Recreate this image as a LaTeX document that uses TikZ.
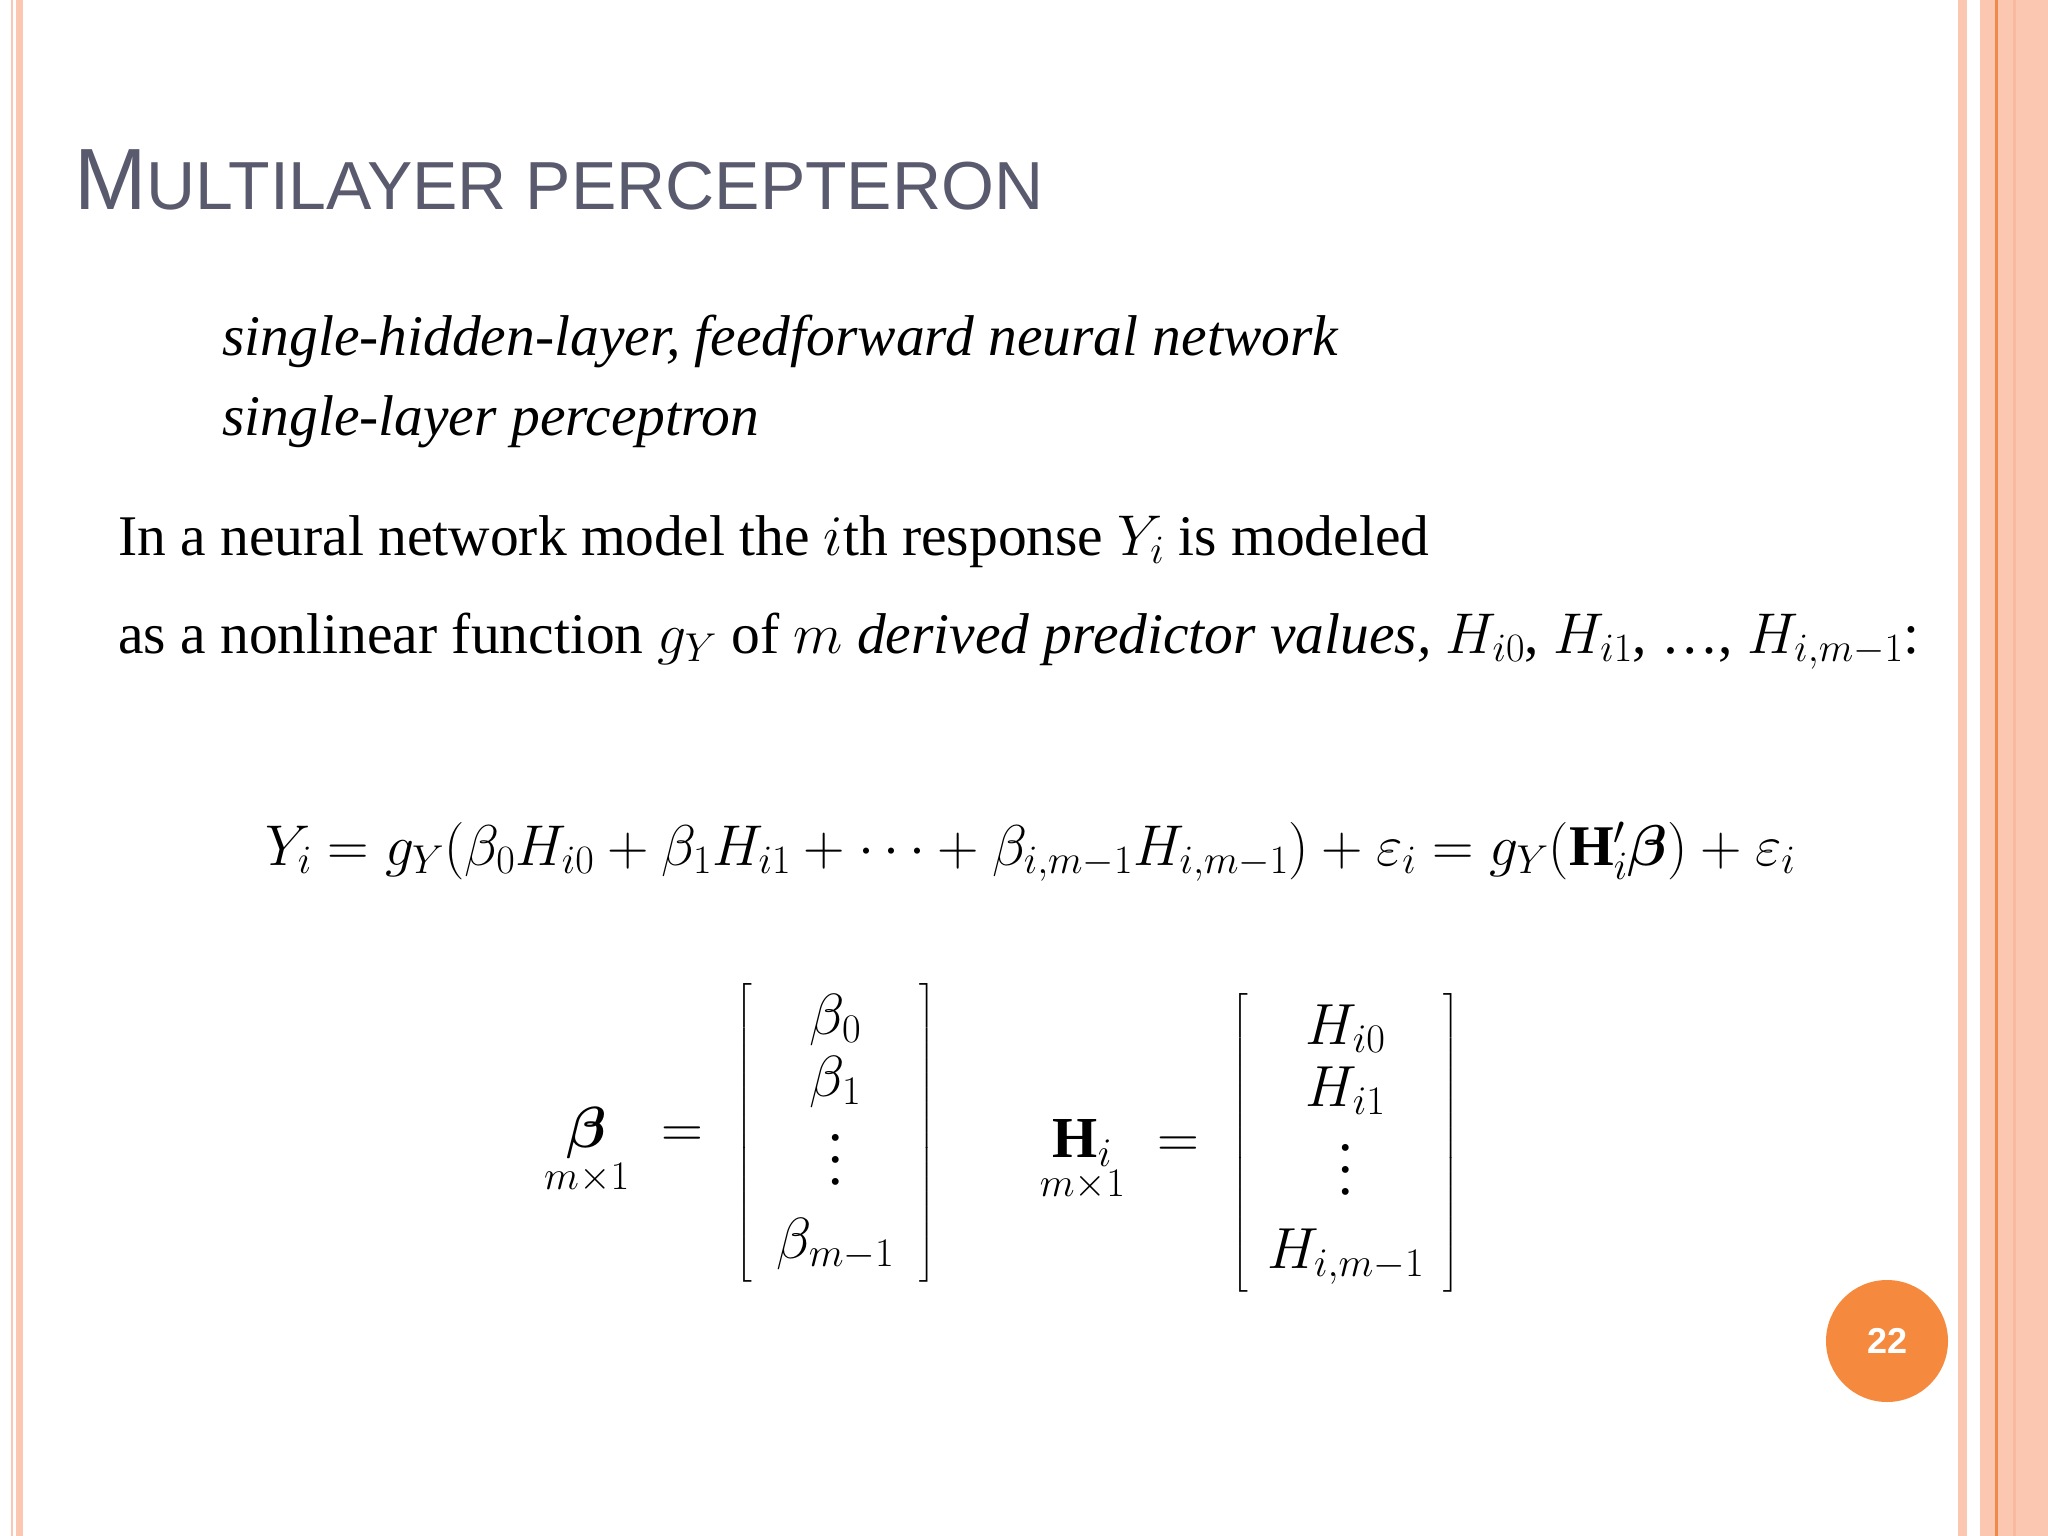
\RequirePackage{fix-cm}
\documentclass[tikz,border=0pt]{standalone}
\usepackage{amsmath,bm}
\usepackage{fontspec}
\setmainfont{Liberation Serif}
\newfontfamily\titlefont{Liberation Sans}
\definecolor{salmon}{HTML}{FBC7B0}
\definecolor{dsalmon}{HTML}{F7B9A0}
\definecolor{oline}{HTML}{F08A4B}
\definecolor{titlegray}{HTML}{5A5A6E}
\definecolor{badge}{HTML}{F58A3E}
\newcommand{\mydots}{\vcenter{\baselineskip=22pt\hbox{.}\hbox{.}\hbox{.}}}
\tikzset{txt/.style={anchor=base west,inner sep=0pt,font=\fontsize{57.5}{66}\selectfont},
 mat/.style={anchor=center,inner sep=0pt,font=\fontsize{58}{66}\selectfont}}
\begin{document}
\begin{tikzpicture}[x=1pt,y=-1pt]
\fill[white] (0,0) rectangle (2048,1536);
% left borders
\fill[salmon] (11,0) rectangle (13,1536);
\fill[salmon] (16,0) rectangle (23,1536);
% right borders
\fill[salmon] (1958,0) rectangle (1967,1536);
\fill[salmon] (1980,0) rectangle (2048,1536);
\fill[dsalmon] (2013,0) rectangle (2016,1536);
\fill[oline] (1995,0) rectangle (1998,1536);
% title
\node[anchor=base west,inner sep=0pt,text=titlegray] (title) at (74,209)
 {\titlefont\fontsize{87}{95}\selectfont M\fontsize{68}{76}\selectfont ULTILAYER PERCEPTERON};
\node[txt] (l1) at (222,355) {\itshape single-hidden-layer, feedforward neural network};
\node[txt] (l2) at (222,435) {\itshape single-layer perceptron};
\node[txt] (l3) at (118,555) {In a neural network model the $i$th response $Y_i$ is modeled};
\node[txt] (l4) at (118,653) {as a nonlinear function $g_Y$ of $m$ \emph{derived predictor values,} $H_{i0}$, $H_{i1}$, \dots, $H_{i,m-1}$:};
\node[txt,font=\fontsize{57.5}{66}\selectfont] (eq) at (265,865) {$Y_i = g_Y(\beta_0 H_{i0} + \beta_1 H_{i1} + \cdots + \beta_{i,m-1}H_{i,m-1}) + \varepsilon_i = g_Y(\mathbf{H}_i'\bm{\beta}) + \varepsilon_i$};
\node[mat] (mb) at (740,1133)
 {$\underset{m\times 1}{\bm{\beta}} \;=\; \begin{bmatrix}\quad\beta_0\quad\\[-4pt]\beta_1\\[12pt]\mydots\\[18pt]\beta_{m-1}\end{bmatrix}$};
\node[mat] (mh) at (1250,1143)
 {$\underset{m\times 1}{\mathbf{H}_i} \;=\; \begin{bmatrix}\quad H_{i0}\quad\\[-4pt]H_{i1}\\[12pt]\mydots\\[18pt]H_{i,m-1}\end{bmatrix}$};
\node[circle,fill=badge,minimum size=122pt,inner sep=0pt,text=white,font=\titlefont\bfseries\fontsize{36}{40}\selectfont] (pg) at (1887,1341) {22};
\end{tikzpicture}
\end{document}
